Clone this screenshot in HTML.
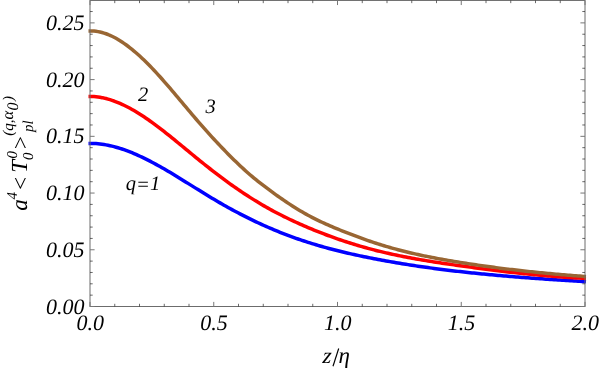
<!DOCTYPE html>
<html><head><meta charset="utf-8"><title>plot</title>
<style>
html,body{margin:0;padding:0;background:#fff;}
body{width:600px;height:369px;overflow:hidden;font-family:"Liberation Serif",serif;}
svg{display:block;will-change:transform;opacity:0.999}
svg text{font-family:"Liberation Serif",serif;font-style:italic;fill:#000;text-rendering:geometricPrecision;}
</style></head><body>
<svg width="600" height="369" viewBox="0 0 600 369">
<rect x="0" y="0" width="600" height="369" fill="#fff"/>
<g fill="none" stroke-linejoin="round" stroke-linecap="butt" stroke-width="3.5">
<path d="M88.50,143.38 L90.00,143.38 L92.00,143.41 L94.00,143.48 L96.00,143.60 L98.00,143.77 L100.00,143.98 L102.00,144.24 L104.00,144.54 L106.00,144.88 L108.00,145.27 L110.00,145.69 L112.00,146.15 L114.00,146.65 L116.00,147.19 L118.00,147.77 L120.00,148.38 L122.00,149.02 L124.00,149.70 L126.00,150.41 L128.00,151.16 L130.00,151.93 L132.00,152.73 L134.00,153.57 L136.00,154.43 L138.00,155.31 L140.00,156.23 L142.00,157.16 L144.00,158.12 L146.00,159.11 L148.00,160.11 L150.00,161.14 L152.00,162.19 L154.00,163.26 L156.00,164.34 L158.00,165.44 L160.00,166.56 L162.00,167.70 L164.00,168.84 L166.00,170.00 L168.00,171.18 L170.00,172.36 L172.00,173.56 L174.00,174.76 L176.00,175.98 L178.00,177.20 L180.00,178.43 L182.00,179.66 L184.00,180.90 L186.00,182.14 L188.00,183.38 L190.00,184.63 L192.00,185.88 L194.00,187.12 L196.00,188.37 L198.00,189.61 L200.00,190.85 L202.00,192.09 L204.00,193.32 L206.00,194.55 L208.00,195.77 L210.00,196.98 L212.00,198.18 L214.00,199.37 L216.00,200.55 L218.00,201.73 L220.00,202.88 L222.00,204.03 L224.00,205.17 L226.00,206.30 L228.00,207.41 L230.00,208.51 L232.00,209.60 L234.00,210.68 L236.00,211.75 L238.00,212.81 L240.00,213.85 L242.00,214.89 L244.00,215.91 L246.00,216.92 L248.00,217.92 L250.00,218.90 L252.00,219.88 L254.00,220.84 L256.00,221.80 L258.00,222.74 L260.00,223.66 L262.00,224.58 L264.00,225.48 L266.00,226.38 L268.00,227.26 L270.00,228.12 L272.00,228.98 L274.00,229.82 L276.00,230.66 L278.00,231.48 L280.00,232.28 L282.00,233.08 L284.00,233.86 L286.00,234.63 L288.00,235.39 L290.00,236.14 L292.00,236.87 L294.00,237.59 L296.00,238.30 L298.00,239.00 L300.00,239.69 L302.00,240.36 L304.00,241.03 L306.00,241.68 L308.00,242.32 L310.00,242.95 L312.00,243.57 L314.00,244.19 L316.00,244.79 L318.00,245.38 L320.00,245.96 L322.00,246.53 L324.00,247.09 L326.00,247.64 L328.00,248.19 L330.00,248.72 L332.00,249.25 L334.00,249.77 L336.00,250.28 L338.00,250.78 L340.00,251.28 L342.00,251.76 L344.00,252.24 L346.00,252.72 L348.00,253.18 L350.00,253.64 L352.00,254.09 L354.00,254.54 L356.00,254.98 L358.00,255.41 L360.00,255.84 L362.00,256.26 L364.00,256.67 L366.00,257.08 L368.00,257.49 L370.00,257.89 L372.00,258.28 L374.00,258.68 L376.00,259.06 L378.00,259.44 L380.00,259.82 L382.00,260.19 L384.00,260.56 L386.00,260.92 L388.00,261.28 L390.00,261.64 L392.00,261.99 L394.00,262.33 L396.00,262.68 L398.00,263.01 L400.00,263.35 L402.00,263.68 L404.00,264.00 L406.00,264.32 L408.00,264.64 L410.00,264.95 L412.00,265.26 L414.00,265.57 L416.00,265.87 L418.00,266.16 L420.00,266.46 L422.00,266.75 L424.00,267.03 L426.00,267.32 L428.00,267.60 L430.00,267.87 L432.00,268.14 L434.00,268.41 L436.00,268.68 L438.00,268.94 L440.00,269.20 L442.00,269.45 L444.00,269.70 L446.00,269.95 L448.00,270.20 L450.00,270.44 L452.00,270.68 L454.00,270.91 L456.00,271.14 L458.00,271.37 L460.00,271.60 L462.00,271.82 L464.00,272.04 L466.00,272.26 L468.00,272.48 L470.00,272.69 L472.00,272.90 L474.00,273.11 L476.00,273.31 L478.00,273.51 L480.00,273.71 L482.00,273.91 L484.00,274.10 L486.00,274.30 L488.00,274.49 L490.00,274.67 L492.00,274.86 L494.00,275.04 L496.00,275.22 L498.00,275.40 L500.00,275.57 L502.00,275.75 L504.00,275.92 L506.00,276.09 L508.00,276.26 L510.00,276.42 L512.00,276.59 L514.00,276.75 L516.00,276.91 L518.00,277.07 L520.00,277.23 L522.00,277.38 L524.00,277.54 L526.00,277.69 L528.00,277.84 L530.00,277.99 L532.00,278.13 L534.00,278.28 L536.00,278.42 L538.00,278.57 L540.00,278.71 L542.00,278.85 L544.00,278.99 L546.00,279.13 L548.00,279.26 L550.00,279.40 L552.00,279.53 L554.00,279.67 L556.00,279.80 L558.00,279.93 L560.00,280.06 L562.00,280.19 L564.00,280.32 L566.00,280.45 L568.00,280.58 L570.00,280.70 L572.00,280.83 L574.00,280.96 L576.00,281.08 L578.00,281.20 L580.00,281.33 L582.00,281.45 L584.00,281.57 L586.00,281.70" stroke="#0000ff"/>
<path d="M88.50,96.45 L90.00,96.45 L92.00,96.49 L94.00,96.60 L96.00,96.77 L98.00,97.00 L100.00,97.30 L102.00,97.66 L104.00,98.08 L106.00,98.56 L108.00,99.09 L110.00,99.68 L112.00,100.33 L114.00,101.02 L116.00,101.77 L118.00,102.57 L120.00,103.41 L122.00,104.30 L124.00,105.24 L126.00,106.23 L128.00,107.25 L130.00,108.32 L132.00,109.43 L134.00,110.57 L136.00,111.76 L138.00,112.97 L140.00,114.23 L142.00,115.51 L144.00,116.83 L146.00,118.18 L148.00,119.56 L150.00,120.96 L152.00,122.40 L154.00,123.85 L156.00,125.33 L158.00,126.83 L160.00,128.36 L162.00,129.90 L164.00,131.46 L166.00,133.03 L168.00,134.62 L170.00,136.22 L172.00,137.83 L174.00,139.46 L176.00,141.09 L178.00,142.73 L180.00,144.37 L182.00,146.02 L184.00,147.67 L186.00,149.32 L188.00,150.97 L190.00,152.61 L192.00,154.26 L194.00,155.90 L196.00,157.53 L198.00,159.16 L200.00,160.78 L202.00,162.39 L204.00,164.00 L206.00,165.59 L208.00,167.18 L210.00,168.75 L212.00,170.32 L214.00,171.87 L216.00,173.42 L218.00,174.94 L220.00,176.46 L222.00,177.96 L224.00,179.44 L226.00,180.91 L228.00,182.37 L230.00,183.81 L232.00,185.24 L234.00,186.65 L236.00,188.04 L238.00,189.42 L240.00,190.79 L242.00,192.14 L244.00,193.47 L246.00,194.78 L248.00,196.08 L250.00,197.37 L252.00,198.63 L254.00,199.88 L256.00,201.11 L258.00,202.33 L260.00,203.53 L262.00,204.71 L264.00,205.87 L266.00,207.01 L268.00,208.14 L270.00,209.25 L272.00,210.34 L274.00,211.42 L276.00,212.48 L278.00,213.52 L280.00,214.55 L282.00,215.56 L284.00,216.56 L286.00,217.55 L288.00,218.52 L290.00,219.47 L292.00,220.42 L294.00,221.35 L296.00,222.27 L298.00,223.18 L300.00,224.08 L302.00,224.96 L304.00,225.84 L306.00,226.70 L308.00,227.55 L310.00,228.39 L312.00,229.23 L314.00,230.05 L316.00,230.86 L318.00,231.66 L320.00,232.44 L322.00,233.22 L324.00,233.99 L326.00,234.75 L328.00,235.49 L330.00,236.23 L332.00,236.96 L334.00,237.67 L336.00,238.38 L338.00,239.08 L340.00,239.76 L342.00,240.44 L344.00,241.10 L346.00,241.76 L348.00,242.40 L350.00,243.04 L352.00,243.67 L354.00,244.28 L356.00,244.89 L358.00,245.48 L360.00,246.07 L362.00,246.65 L364.00,247.22 L366.00,247.78 L368.00,248.32 L370.00,248.86 L372.00,249.39 L374.00,249.92 L376.00,250.43 L378.00,250.93 L380.00,251.42 L382.00,251.91 L384.00,252.38 L386.00,252.85 L388.00,253.31 L390.00,253.76 L392.00,254.20 L394.00,254.63 L396.00,255.06 L398.00,255.48 L400.00,255.89 L402.00,256.29 L404.00,256.69 L406.00,257.08 L408.00,257.46 L410.00,257.84 L412.00,258.21 L414.00,258.57 L416.00,258.93 L418.00,259.28 L420.00,259.63 L422.00,259.97 L424.00,260.31 L426.00,260.64 L428.00,260.97 L430.00,261.29 L432.00,261.61 L434.00,261.93 L436.00,262.24 L438.00,262.55 L440.00,262.85 L442.00,263.15 L444.00,263.45 L446.00,263.74 L448.00,264.03 L450.00,264.32 L452.00,264.61 L454.00,264.89 L456.00,265.18 L458.00,265.46 L460.00,265.74 L462.00,266.01 L464.00,266.29 L466.00,266.57 L468.00,266.84 L470.00,267.11 L472.00,267.38 L474.00,267.65 L476.00,267.92 L478.00,268.18 L480.00,268.44 L482.00,268.71 L484.00,268.97 L486.00,269.22 L488.00,269.48 L490.00,269.73 L492.00,269.98 L494.00,270.23 L496.00,270.48 L498.00,270.72 L500.00,270.96 L502.00,271.20 L504.00,271.44 L506.00,271.67 L508.00,271.91 L510.00,272.14 L512.00,272.36 L514.00,272.59 L516.00,272.81 L518.00,273.03 L520.00,273.24 L522.00,273.45 L524.00,273.66 L526.00,273.87 L528.00,274.07 L530.00,274.27 L532.00,274.47 L534.00,274.66 L536.00,274.85 L538.00,275.04 L540.00,275.23 L542.00,275.41 L544.00,275.58 L546.00,275.76 L548.00,275.93 L550.00,276.09 L552.00,276.25 L554.00,276.41 L556.00,276.57 L558.00,276.72 L560.00,276.87 L562.00,277.01 L564.00,277.15 L566.00,277.28 L568.00,277.41 L570.00,277.54 L572.00,277.66 L574.00,277.78 L576.00,277.90 L578.00,278.01 L580.00,278.11 L582.00,278.21 L584.00,278.31 L586.00,278.40" stroke="#ff0000"/>
<path d="M88.50,30.99 L90.00,30.99 L92.00,31.00 L94.00,31.11 L96.00,31.32 L98.00,31.62 L100.00,32.01 L102.00,32.50 L104.00,33.08 L106.00,33.74 L108.00,34.49 L110.00,35.33 L112.00,36.25 L114.00,37.24 L116.00,38.32 L118.00,39.47 L120.00,40.68 L122.00,41.97 L124.00,43.33 L126.00,44.75 L128.00,46.23 L130.00,47.77 L132.00,49.37 L134.00,51.03 L136.00,52.74 L138.00,54.51 L140.00,56.32 L142.00,58.18 L144.00,60.09 L146.00,62.04 L148.00,64.04 L150.00,66.07 L152.00,68.15 L154.00,70.26 L156.00,72.40 L158.00,74.58 L160.00,76.79 L162.00,79.03 L164.00,81.30 L166.00,83.59 L168.00,85.90 L170.00,88.22 L172.00,90.57 L174.00,92.93 L176.00,95.30 L178.00,97.67 L180.00,100.06 L182.00,102.44 L184.00,104.83 L186.00,107.21 L188.00,109.59 L190.00,111.96 L192.00,114.33 L194.00,116.68 L196.00,119.01 L198.00,121.33 L200.00,123.63 L202.00,125.92 L204.00,128.18 L206.00,130.43 L208.00,132.67 L210.00,134.88 L212.00,137.07 L214.00,139.25 L216.00,141.41 L218.00,143.54 L220.00,145.66 L222.00,147.76 L224.00,149.83 L226.00,151.89 L228.00,153.92 L230.00,155.94 L232.00,157.93 L234.00,159.90 L236.00,161.84 L238.00,163.77 L240.00,165.67 L242.00,167.54 L244.00,169.38 L246.00,171.19 L248.00,172.96 L250.00,174.70 L252.00,176.40 L254.00,178.07 L256.00,179.70 L258.00,181.31 L260.00,182.88 L262.00,184.43 L264.00,185.96 L266.00,187.47 L268.00,188.96 L270.00,190.44 L272.00,191.91 L274.00,193.36 L276.00,194.80 L278.00,196.22 L280.00,197.63 L282.00,199.02 L284.00,200.39 L286.00,201.75 L288.00,203.09 L290.00,204.40 L292.00,205.70 L294.00,206.98 L296.00,208.23 L298.00,209.46 L300.00,210.66 L302.00,211.84 L304.00,212.99 L306.00,214.12 L308.00,215.22 L310.00,216.29 L312.00,217.34 L314.00,218.36 L316.00,219.36 L318.00,220.34 L320.00,221.30 L322.00,222.24 L324.00,223.16 L326.00,224.07 L328.00,224.96 L330.00,225.83 L332.00,226.69 L334.00,227.53 L336.00,228.36 L338.00,229.18 L340.00,230.00 L342.00,230.80 L344.00,231.59 L346.00,232.38 L348.00,233.16 L350.00,233.94 L352.00,234.70 L354.00,235.46 L356.00,236.21 L358.00,236.96 L360.00,237.69 L362.00,238.42 L364.00,239.14 L366.00,239.85 L368.00,240.54 L370.00,241.23 L372.00,241.91 L374.00,242.58 L376.00,243.24 L378.00,243.88 L380.00,244.52 L382.00,245.14 L384.00,245.75 L386.00,246.35 L388.00,246.94 L390.00,247.51 L392.00,248.08 L394.00,248.63 L396.00,249.18 L398.00,249.71 L400.00,250.24 L402.00,250.75 L404.00,251.26 L406.00,251.76 L408.00,252.24 L410.00,252.72 L412.00,253.19 L414.00,253.65 L416.00,254.11 L418.00,254.55 L420.00,254.99 L422.00,255.42 L424.00,255.84 L426.00,256.25 L428.00,256.66 L430.00,257.06 L432.00,257.45 L434.00,257.84 L436.00,258.22 L438.00,258.60 L440.00,258.97 L442.00,259.33 L444.00,259.69 L446.00,260.04 L448.00,260.39 L450.00,260.73 L452.00,261.07 L454.00,261.41 L456.00,261.74 L458.00,262.06 L460.00,262.39 L462.00,262.71 L464.00,263.02 L466.00,263.33 L468.00,263.64 L470.00,263.95 L472.00,264.25 L474.00,264.55 L476.00,264.84 L478.00,265.14 L480.00,265.43 L482.00,265.71 L484.00,265.99 L486.00,266.27 L488.00,266.55 L490.00,266.82 L492.00,267.09 L494.00,267.35 L496.00,267.62 L498.00,267.88 L500.00,268.13 L502.00,268.39 L504.00,268.64 L506.00,268.89 L508.00,269.13 L510.00,269.37 L512.00,269.61 L514.00,269.85 L516.00,270.08 L518.00,270.31 L520.00,270.54 L522.00,270.76 L524.00,270.98 L526.00,271.20 L528.00,271.41 L530.00,271.63 L532.00,271.84 L534.00,272.04 L536.00,272.25 L538.00,272.45 L540.00,272.65 L542.00,272.85 L544.00,273.04 L546.00,273.23 L548.00,273.42 L550.00,273.61 L552.00,273.79 L554.00,273.97 L556.00,274.15 L558.00,274.33 L560.00,274.50 L562.00,274.67 L564.00,274.84 L566.00,275.01 L568.00,275.17 L570.00,275.34 L572.00,275.49 L574.00,275.65 L576.00,275.81 L578.00,275.96 L580.00,276.11 L582.00,276.26 L584.00,276.41 L586.00,276.55" stroke="#996633"/>
</g>
<rect x="90.0" y="0.45" width="495.0" height="306.05" fill="none" stroke="#6c6c6c" stroke-width="1"/>
<line x1="90.0" y1="306.50" x2="94.6" y2="306.50" stroke="#777" stroke-width="1.0"/>
<line x1="585.0" y1="306.50" x2="580.4" y2="306.50" stroke="#777" stroke-width="1.0"/>
<line x1="90.0" y1="295.15" x2="92.7" y2="295.15" stroke="#2a2a2a" stroke-width="0.7"/>
<line x1="585.0" y1="295.15" x2="582.3" y2="295.15" stroke="#2a2a2a" stroke-width="0.7"/>
<line x1="90.0" y1="283.81" x2="92.7" y2="283.81" stroke="#2a2a2a" stroke-width="0.7"/>
<line x1="585.0" y1="283.81" x2="582.3" y2="283.81" stroke="#2a2a2a" stroke-width="0.7"/>
<line x1="90.0" y1="272.47" x2="92.7" y2="272.47" stroke="#2a2a2a" stroke-width="0.7"/>
<line x1="585.0" y1="272.47" x2="582.3" y2="272.47" stroke="#2a2a2a" stroke-width="0.7"/>
<line x1="90.0" y1="261.12" x2="92.7" y2="261.12" stroke="#2a2a2a" stroke-width="0.7"/>
<line x1="585.0" y1="261.12" x2="582.3" y2="261.12" stroke="#2a2a2a" stroke-width="0.7"/>
<line x1="90.0" y1="249.78" x2="94.6" y2="249.78" stroke="#777" stroke-width="1.0"/>
<line x1="585.0" y1="249.78" x2="580.4" y2="249.78" stroke="#777" stroke-width="1.0"/>
<line x1="90.0" y1="238.43" x2="92.7" y2="238.43" stroke="#2a2a2a" stroke-width="0.7"/>
<line x1="585.0" y1="238.43" x2="582.3" y2="238.43" stroke="#2a2a2a" stroke-width="0.7"/>
<line x1="90.0" y1="227.08" x2="92.7" y2="227.08" stroke="#2a2a2a" stroke-width="0.7"/>
<line x1="585.0" y1="227.08" x2="582.3" y2="227.08" stroke="#2a2a2a" stroke-width="0.7"/>
<line x1="90.0" y1="215.74" x2="92.7" y2="215.74" stroke="#2a2a2a" stroke-width="0.7"/>
<line x1="585.0" y1="215.74" x2="582.3" y2="215.74" stroke="#2a2a2a" stroke-width="0.7"/>
<line x1="90.0" y1="204.40" x2="92.7" y2="204.40" stroke="#2a2a2a" stroke-width="0.7"/>
<line x1="585.0" y1="204.40" x2="582.3" y2="204.40" stroke="#2a2a2a" stroke-width="0.7"/>
<line x1="90.0" y1="193.05" x2="94.6" y2="193.05" stroke="#777" stroke-width="1.0"/>
<line x1="585.0" y1="193.05" x2="580.4" y2="193.05" stroke="#777" stroke-width="1.0"/>
<line x1="90.0" y1="181.70" x2="92.7" y2="181.70" stroke="#2a2a2a" stroke-width="0.7"/>
<line x1="585.0" y1="181.70" x2="582.3" y2="181.70" stroke="#2a2a2a" stroke-width="0.7"/>
<line x1="90.0" y1="170.36" x2="92.7" y2="170.36" stroke="#2a2a2a" stroke-width="0.7"/>
<line x1="585.0" y1="170.36" x2="582.3" y2="170.36" stroke="#2a2a2a" stroke-width="0.7"/>
<line x1="90.0" y1="159.01" x2="92.7" y2="159.01" stroke="#2a2a2a" stroke-width="0.7"/>
<line x1="585.0" y1="159.01" x2="582.3" y2="159.01" stroke="#2a2a2a" stroke-width="0.7"/>
<line x1="90.0" y1="147.67" x2="92.7" y2="147.67" stroke="#2a2a2a" stroke-width="0.7"/>
<line x1="585.0" y1="147.67" x2="582.3" y2="147.67" stroke="#2a2a2a" stroke-width="0.7"/>
<line x1="90.0" y1="136.33" x2="94.6" y2="136.33" stroke="#777" stroke-width="1.0"/>
<line x1="585.0" y1="136.33" x2="580.4" y2="136.33" stroke="#777" stroke-width="1.0"/>
<line x1="90.0" y1="124.98" x2="92.7" y2="124.98" stroke="#2a2a2a" stroke-width="0.7"/>
<line x1="585.0" y1="124.98" x2="582.3" y2="124.98" stroke="#2a2a2a" stroke-width="0.7"/>
<line x1="90.0" y1="113.63" x2="92.7" y2="113.63" stroke="#2a2a2a" stroke-width="0.7"/>
<line x1="585.0" y1="113.63" x2="582.3" y2="113.63" stroke="#2a2a2a" stroke-width="0.7"/>
<line x1="90.0" y1="102.29" x2="92.7" y2="102.29" stroke="#2a2a2a" stroke-width="0.7"/>
<line x1="585.0" y1="102.29" x2="582.3" y2="102.29" stroke="#2a2a2a" stroke-width="0.7"/>
<line x1="90.0" y1="90.94" x2="92.7" y2="90.94" stroke="#2a2a2a" stroke-width="0.7"/>
<line x1="585.0" y1="90.94" x2="582.3" y2="90.94" stroke="#2a2a2a" stroke-width="0.7"/>
<line x1="90.0" y1="79.60" x2="94.6" y2="79.60" stroke="#777" stroke-width="1.0"/>
<line x1="585.0" y1="79.60" x2="580.4" y2="79.60" stroke="#777" stroke-width="1.0"/>
<line x1="90.0" y1="68.25" x2="92.7" y2="68.25" stroke="#2a2a2a" stroke-width="0.7"/>
<line x1="585.0" y1="68.25" x2="582.3" y2="68.25" stroke="#2a2a2a" stroke-width="0.7"/>
<line x1="90.0" y1="56.91" x2="92.7" y2="56.91" stroke="#2a2a2a" stroke-width="0.7"/>
<line x1="585.0" y1="56.91" x2="582.3" y2="56.91" stroke="#2a2a2a" stroke-width="0.7"/>
<line x1="90.0" y1="45.56" x2="92.7" y2="45.56" stroke="#2a2a2a" stroke-width="0.7"/>
<line x1="585.0" y1="45.56" x2="582.3" y2="45.56" stroke="#2a2a2a" stroke-width="0.7"/>
<line x1="90.0" y1="34.22" x2="92.7" y2="34.22" stroke="#2a2a2a" stroke-width="0.7"/>
<line x1="585.0" y1="34.22" x2="582.3" y2="34.22" stroke="#2a2a2a" stroke-width="0.7"/>
<line x1="90.0" y1="22.88" x2="94.6" y2="22.88" stroke="#777" stroke-width="1.0"/>
<line x1="585.0" y1="22.88" x2="580.4" y2="22.88" stroke="#777" stroke-width="1.0"/>
<line x1="90.0" y1="11.53" x2="92.7" y2="11.53" stroke="#2a2a2a" stroke-width="0.7"/>
<line x1="585.0" y1="11.53" x2="582.3" y2="11.53" stroke="#2a2a2a" stroke-width="0.7"/>
<line x1="90.00" y1="306.5" x2="90.00" y2="301.9" stroke="#777" stroke-width="1.0"/>
<line x1="90.00" y1="0.45" x2="90.00" y2="5.05" stroke="#777" stroke-width="1.0"/>
<line x1="114.75" y1="306.5" x2="114.75" y2="303.8" stroke="#2a2a2a" stroke-width="0.7"/>
<line x1="114.75" y1="0.45" x2="114.75" y2="3.1500000000000004" stroke="#2a2a2a" stroke-width="0.7"/>
<line x1="139.50" y1="306.5" x2="139.50" y2="303.8" stroke="#2a2a2a" stroke-width="0.7"/>
<line x1="139.50" y1="0.45" x2="139.50" y2="3.1500000000000004" stroke="#2a2a2a" stroke-width="0.7"/>
<line x1="164.25" y1="306.5" x2="164.25" y2="303.8" stroke="#2a2a2a" stroke-width="0.7"/>
<line x1="164.25" y1="0.45" x2="164.25" y2="3.1500000000000004" stroke="#2a2a2a" stroke-width="0.7"/>
<line x1="189.00" y1="306.5" x2="189.00" y2="303.8" stroke="#2a2a2a" stroke-width="0.7"/>
<line x1="189.00" y1="0.45" x2="189.00" y2="3.1500000000000004" stroke="#2a2a2a" stroke-width="0.7"/>
<line x1="213.75" y1="306.5" x2="213.75" y2="301.9" stroke="#777" stroke-width="1.0"/>
<line x1="213.75" y1="0.45" x2="213.75" y2="5.05" stroke="#777" stroke-width="1.0"/>
<line x1="238.50" y1="306.5" x2="238.50" y2="303.8" stroke="#2a2a2a" stroke-width="0.7"/>
<line x1="238.50" y1="0.45" x2="238.50" y2="3.1500000000000004" stroke="#2a2a2a" stroke-width="0.7"/>
<line x1="263.25" y1="306.5" x2="263.25" y2="303.8" stroke="#2a2a2a" stroke-width="0.7"/>
<line x1="263.25" y1="0.45" x2="263.25" y2="3.1500000000000004" stroke="#2a2a2a" stroke-width="0.7"/>
<line x1="288.00" y1="306.5" x2="288.00" y2="303.8" stroke="#2a2a2a" stroke-width="0.7"/>
<line x1="288.00" y1="0.45" x2="288.00" y2="3.1500000000000004" stroke="#2a2a2a" stroke-width="0.7"/>
<line x1="312.75" y1="306.5" x2="312.75" y2="303.8" stroke="#2a2a2a" stroke-width="0.7"/>
<line x1="312.75" y1="0.45" x2="312.75" y2="3.1500000000000004" stroke="#2a2a2a" stroke-width="0.7"/>
<line x1="337.50" y1="306.5" x2="337.50" y2="301.9" stroke="#777" stroke-width="1.0"/>
<line x1="337.50" y1="0.45" x2="337.50" y2="5.05" stroke="#777" stroke-width="1.0"/>
<line x1="362.25" y1="306.5" x2="362.25" y2="303.8" stroke="#2a2a2a" stroke-width="0.7"/>
<line x1="362.25" y1="0.45" x2="362.25" y2="3.1500000000000004" stroke="#2a2a2a" stroke-width="0.7"/>
<line x1="387.00" y1="306.5" x2="387.00" y2="303.8" stroke="#2a2a2a" stroke-width="0.7"/>
<line x1="387.00" y1="0.45" x2="387.00" y2="3.1500000000000004" stroke="#2a2a2a" stroke-width="0.7"/>
<line x1="411.75" y1="306.5" x2="411.75" y2="303.8" stroke="#2a2a2a" stroke-width="0.7"/>
<line x1="411.75" y1="0.45" x2="411.75" y2="3.1500000000000004" stroke="#2a2a2a" stroke-width="0.7"/>
<line x1="436.50" y1="306.5" x2="436.50" y2="303.8" stroke="#2a2a2a" stroke-width="0.7"/>
<line x1="436.50" y1="0.45" x2="436.50" y2="3.1500000000000004" stroke="#2a2a2a" stroke-width="0.7"/>
<line x1="461.25" y1="306.5" x2="461.25" y2="301.9" stroke="#777" stroke-width="1.0"/>
<line x1="461.25" y1="0.45" x2="461.25" y2="5.05" stroke="#777" stroke-width="1.0"/>
<line x1="486.00" y1="306.5" x2="486.00" y2="303.8" stroke="#2a2a2a" stroke-width="0.7"/>
<line x1="486.00" y1="0.45" x2="486.00" y2="3.1500000000000004" stroke="#2a2a2a" stroke-width="0.7"/>
<line x1="510.75" y1="306.5" x2="510.75" y2="303.8" stroke="#2a2a2a" stroke-width="0.7"/>
<line x1="510.75" y1="0.45" x2="510.75" y2="3.1500000000000004" stroke="#2a2a2a" stroke-width="0.7"/>
<line x1="535.50" y1="306.5" x2="535.50" y2="303.8" stroke="#2a2a2a" stroke-width="0.7"/>
<line x1="535.50" y1="0.45" x2="535.50" y2="3.1500000000000004" stroke="#2a2a2a" stroke-width="0.7"/>
<line x1="560.25" y1="306.5" x2="560.25" y2="303.8" stroke="#2a2a2a" stroke-width="0.7"/>
<line x1="560.25" y1="0.45" x2="560.25" y2="3.1500000000000004" stroke="#2a2a2a" stroke-width="0.7"/>
<line x1="585.00" y1="306.5" x2="585.00" y2="301.9" stroke="#777" stroke-width="1.0"/>
<line x1="585.00" y1="0.45" x2="585.00" y2="5.05" stroke="#777" stroke-width="1.0"/>
<text x="84.6" y="313.50" text-anchor="end" font-size="22">0.00</text>
<text x="84.6" y="256.77" text-anchor="end" font-size="22">0.05</text>
<text x="84.6" y="200.05" text-anchor="end" font-size="22">0.10</text>
<text x="84.6" y="143.32" text-anchor="end" font-size="22">0.15</text>
<text x="84.6" y="86.60" text-anchor="end" font-size="22">0.20</text>
<text x="84.6" y="29.88" text-anchor="end" font-size="22">0.25</text>
<text x="90.30" y="330.3" text-anchor="middle" font-size="22">0.0</text>
<text x="214.05" y="330.3" text-anchor="middle" font-size="22">0.5</text>
<text x="337.80" y="330.3" text-anchor="middle" font-size="22">1.0</text>
<text x="461.55" y="330.3" text-anchor="middle" font-size="22">1.5</text>
<text x="585.30" y="330.3" text-anchor="middle" font-size="22">2.0</text>
<text x="143" y="101.3" font-size="20.5" text-anchor="middle">2</text>
<text x="210.5" y="113.2" font-size="20.5" text-anchor="middle">3</text>
<text x="143" y="189.8" font-size="20.5" text-anchor="middle">q<tspan dy="1.4">=</tspan><tspan dy="-1.4">1</tspan></text>
<text transform="translate(322.2,362.6) skewX(-5)" font-size="22.5">z</text>
<line x1="338.7" y1="348.5" x2="333.0" y2="366.3" stroke="#000" stroke-width="1.15"/>
<text x="338.5" y="362.6" font-size="23">η</text>
<g transform="translate(26.9,210.5) rotate(-90)">
<text x="-0.2" y="0" font-size="23">a</text>
<text x="11.1" y="-10" font-size="15">4</text>
<text x="19.15" y="1.2" font-size="23">&lt;</text>
<text x="37.75" y="0" font-size="23">T</text>
<text x="51.9" y="-10" font-size="15">0</text>
<text x="50.5" y="6" font-size="15">0</text>
<text x="59.9" y="1.2" font-size="23">&gt;</text>
<text x="78.6" y="6.4" font-size="15">pl</text>
<text x="74.7" y="-13.6" font-size="15">(q,</text>
<text x="91.0" y="-13.6" font-size="16.5">α</text>
<text x="99.9" y="-8.6" font-size="16">0</text>
<text x="109.4" y="-13.6" font-size="15">)</text>
</g>
</svg>
</body></html>
